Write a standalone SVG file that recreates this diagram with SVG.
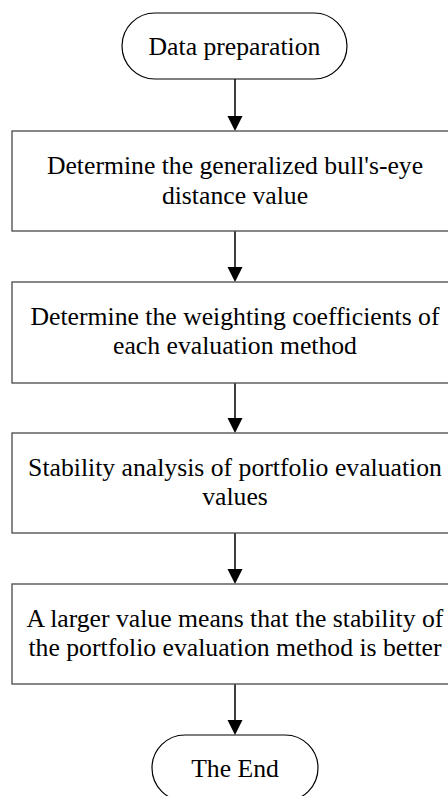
<svg xmlns="http://www.w3.org/2000/svg" width="448" height="796" viewBox="0 0 448 796">
<style>
  .term { fill: #ffffff; stroke: #000000; stroke-width: 1.2; }
  .box { fill: #ffffff; stroke: #555555; stroke-width: 1.4; }
  .t { font-family: 'Liberation Serif', Tinos, 'Times New Roman', Times, 'DejaVu Serif', serif; font-size: 25.7px; fill: #000000; text-anchor: middle; }
  .conn { stroke: #000000; stroke-width: 1.5; fill: none; }
  .head { fill: #000000; stroke: none; }
</style>
<rect x="0" y="0" width="448" height="796" fill="#ffffff"/>
<g id="connectors">
  <line class="conn" x1="235" y1="79" x2="235" y2="118"/>
  <polygon class="head" points="227.5,116 242.5,116 235,131"/>
  <line class="conn" x1="235" y1="231" x2="235" y2="269"/>
  <polygon class="head" points="227.5,267 242.5,267 235,282"/>
  <line class="conn" x1="235" y1="383" x2="235" y2="420"/>
  <polygon class="head" points="227.5,418 242.5,418 235,433"/>
  <line class="conn" x1="235" y1="533" x2="235" y2="571"/>
  <polygon class="head" points="227.5,569 242.5,569 235,584"/>
  <line class="conn" x1="235" y1="684" x2="235" y2="722"/>
  <polygon class="head" points="227.5,720 242.5,720 235,735"/>
</g>
<g id="start">
  <rect class="term" x="122" y="13" width="225" height="66" rx="33" ry="33"/>
  <text class="t" x="234.5" y="55">Data preparation</text>
</g>
<g id="step1">
  <rect class="box" x="12" y="131" width="446" height="100"/>
  <text class="t" x="235" y="174">Determine the generalized bull's-eye</text>
  <text class="t" x="235" y="204">distance value</text>
</g>
<g id="step2">
  <rect class="box" x="12" y="282" width="446" height="101"/>
  <text class="t" x="235" y="325">Determine the weighting coefficients of</text>
  <text class="t" x="235" y="354">each evaluation method</text>
</g>
<g id="step3">
  <rect class="box" x="12" y="433" width="446" height="100"/>
  <text class="t" x="235" y="476">Stability analysis of portfolio evaluation</text>
  <text class="t" x="235" y="505">values</text>
</g>
<g id="step4">
  <rect class="box" x="12" y="584" width="446" height="100"/>
  <text class="t" x="235" y="627">A larger value means that the stability of</text>
  <text class="t" x="235" y="656">the portfolio evaluation method is better</text>
</g>
<g id="end">
  <rect class="term" x="152" y="735" width="166" height="66" rx="33" ry="33"/>
  <text class="t" x="235" y="777">The End</text>
</g>
</svg>
